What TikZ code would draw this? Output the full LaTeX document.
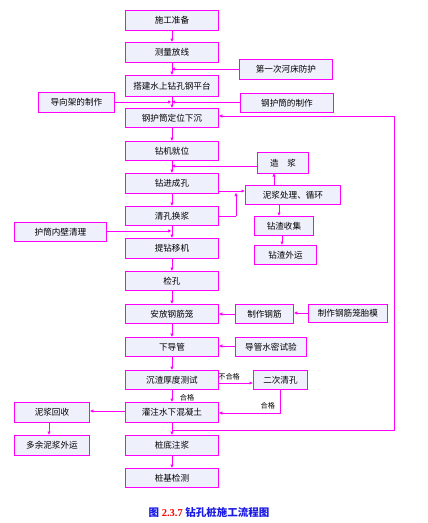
\documentclass[tikz,border=0pt]{standalone}
\usepackage{fontspec}
\usetikzlibrary{arrows.meta}
\newfontfamily\cjk{Noto Sans CJK SC}
\setmainfont{Liberation Serif}
\definecolor{mag}{HTML}{FF00FF}
\definecolor{boxfill}{HTML}{EEF0FC}
\definecolor{capblue}{HTML}{1A1AE6}
\tikzset{
  box/.style={draw=mag, line width=0.9pt, fill=boxfill, inner sep=0pt, anchor=north west, font=\cjk\fontsize{8.6}{10}\selectfont},
  conn/.style={draw=mag, line width=0.9pt},
  arr/.style={conn, -{Latex[length=3.5pt,width=3.5pt]}},
  lbl/.style={font=\cjk\fontsize{7.2}{8}\selectfont, inner sep=0pt}
}
\newcommand{\bx}[6]{\node[box, minimum width={#3-#2}, minimum height={#5-#4}] (#1) at (#2,#4) {}; \node[font=\cjk\fontsize{8.6}{10}\selectfont, inner sep=0pt] at (#1.center) {#6};}
\begin{document}
\begin{tikzpicture}[x=1pt,y=-1pt]
\useasboundingbox (0,0) rectangle (428,523);
% main column
\bx{a1}{125}{218}{10}{30}{施工准备}
\bx{a2}{125}{218}{42}{62}{测量放线}
\bx{a3}{125}{218}{75}{96}{搭建水上钻孔钢平台}
\bx{a4}{125}{218}{108}{127}{钢护筒定位下沉}
\bx{a5}{125}{218}{141}{160}{钻机就位}
\bx{a6}{125}{218}{173}{193}{钻进成孔}
\bx{a7}{125}{218}{206}{225}{清孔换浆}
\bx{a8}{125}{218}{238}{258}{提钻移机}
\bx{a9}{125}{218}{271}{290}{检孔}
\bx{a10}{125}{218}{304}{323}{安放钢筋笼}
\bx{a11}{125}{218}{337}{356}{下导管}
\bx{a12}{125}{218}{370}{389}{沉渣厚度测试}
\bx{a13}{125}{218}{402}{422}{灌注水下混凝土}
\bx{a14}{125}{218}{435}{455}{桩底注浆}
\bx{a15}{125}{218}{468}{487}{桩基检测}
% side boxes
\bx{b1}{239}{332}{59}{79}{第一次河床防护}
\bx{b2}{38}{114}{92}{112}{导向架的制作}
\bx{b3}{240}{333}{93}{112}{钢护筒的制作}
\bx{c1}{257}{308}{152}{173}{造\quad 浆}
\bx{c2}{245}{340}{185}{204}{泥浆处理、循环}
\bx{c3}{254}{313}{216}{235}{钻渣收集}
\bx{c4}{254}{316}{245}{264}{钻渣外运}
\bx{d1}{14}{106}{222}{241}{护筒内壁清理}
\bx{e1}{235}{293}{304}{323}{制作钢筋}
\bx{e2}{308}{387}{304}{322}{制作钢筋笼胎模}
\bx{f1}{235}{306}{337}{356}{导管水密试验}
\bx{g1}{253}{307}{370}{389}{二次清孔}
\bx{h1}{14}{89}{402}{422}{泥浆回收}
\bx{h2}{14}{89}{435}{455}{多余泥浆外运}
% main column arrows
\foreach \p/\q in {a1/a2,a2/a3,a3/a4,a4/a5,a5/a6,a6/a7,a7/a8,a8/a9,a9/a10,a10/a11,a11/a12,a12/a13,a13/a14,a14/a15}
  \draw[arr] (\p.south) -- (\q.north);
% coordinates on column
\coordinate (j1) at (171.5,69);
\coordinate (j2) at (171.5,102);
\coordinate (j3) at (171.5,166);
\coordinate (j4) at (171.5,231);
\coordinate (j5) at (173,430);
\coordinate (k1) at (236,191);
\coordinate (k2) at (394,430);
\coordinate (k3) at (394,116);
\coordinate (k4) at (236,216);
\coordinate (k5) at (280,413);
% side arrows
\draw[arr] (b1.west |- j1) -- (j1);
\draw[arr] (b2.east |- j2) -- (j2);
\draw[arr] (b3.west |- j2) -- (j2);
\draw[arr] (c1.west |- j3) -- (j3);
\draw[arr] (274,185) -- (274,173);
\draw[arr] (a6.east |- k1) -- (c2.west |- k1);
\draw[conn] (a7.east |- k4) -- (k4);
\draw[arr] (k4) -- (236,192.5);
\draw[arr] (279,204) -- (279,216);
\draw[arr] (282,235) -- (282,245);
\draw[arr] (d1.east |- j4) -- (j4);
\draw[arr] (e1.west |- 0,314) -- (a10.east |- 0,314);
\draw[arr] (e2.west |- 0,313) -- (e1.east |- 0,313);
\draw[arr] (f1.west |- 0,346) -- (a11.east |- 0,346);
\draw[arr] (a12.east |- 0,383) -- node[lbl, above=2.5pt, pos=0.3]{不合格} (g1.west |- 0,383);
\draw[arr] (g1.south -| k5) -- (k5) -- node[lbl, above=3pt, pos=0.2]{合格} (a13.east |- k5);
\node[lbl] (l3) at (187,398) {合格};
\draw[arr] (a13.west |- 0,411) -- (h1.east |- 0,411);
\draw[arr] (49,422) -- (49,435);
\draw[conn] (j5) -- (k2) -- (k3);
\draw[arr] (k3) -- (a4.east |- k3);
% caption
\node[inner sep=0pt, font=\bfseries\fontsize{10.5}{12}\selectfont] (cap) at (209,512)
  {\textcolor{capblue}{\cjk 图} \textcolor{red}{2.3.7} \textcolor{capblue}{\cjk 钻孔桩施工流程图}};
\end{tikzpicture}
\end{document}
